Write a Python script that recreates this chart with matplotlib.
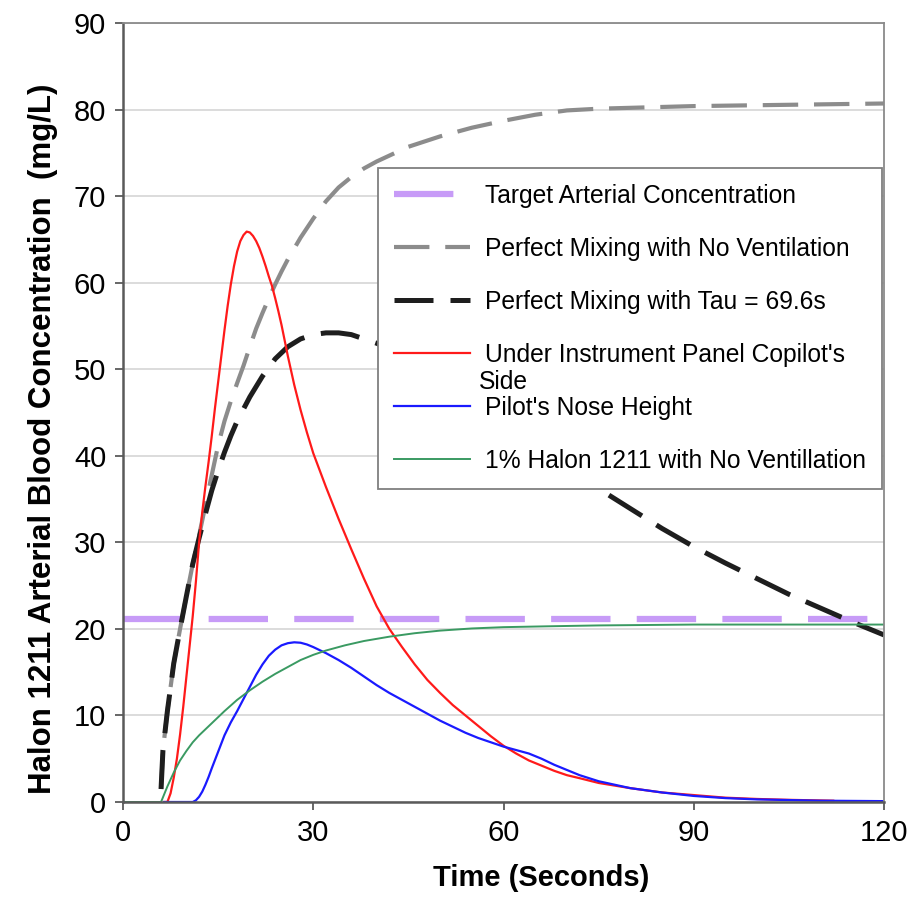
import matplotlib
matplotlib.use('Agg')
import matplotlib.pyplot as plt
from matplotlib.transforms import IdentityTransform

plt.rcParams['font.family'] = ['Liberation Sans', 'DejaVu Sans']

# time in seconds, concentration in mg/L
target_t = [0, 120]
target_y = [21.1, 21.1]

gray_t = [6, 6.3, 7, 8, 9, 10, 11, 12, 13, 14, 15, 16, 17, 18, 19, 20, 21, 22, 23, 24,
          25, 26, 28, 30, 32, 34, 36, 38, 40, 45, 50, 55, 60, 65, 70, 75, 80, 90, 100, 110, 120]
gray_y = [1.5, 6, 10.5, 16, 20, 23.8, 27.5, 30.8, 34.3, 37.8, 41.2, 44, 46.3, 48.4, 50.4, 52.6, 54.7, 56.5, 58.2, 59.8,
          61.3, 62.7, 65.2, 67.4, 69.4, 71, 72.2, 73.2, 74, 75.7, 76.9, 77.9, 78.7, 79.4, 79.9, 80.1, 80.2, 80.4, 80.5, 80.6, 80.7]

black_t = [6, 6.3, 7, 8, 9, 10, 11, 12, 13, 14, 15, 16, 17, 18, 20, 22, 24, 26, 28, 30,
           32, 34, 36, 38, 40, 45, 50, 55, 60, 65, 70, 75, 80, 85, 90, 95, 100, 105, 110, 115, 120]
black_y = [1.5, 6, 10.5, 16, 20, 23.8, 27.5, 30.5, 33.3, 36, 38.3, 40.4, 42.3, 44, 46.8, 49.2, 51.2, 52.6, 53.5, 54,
           54.2, 54.2, 54, 53.5, 53, 51.5, 49.5, 47, 44.2, 41.3, 38.7, 36.2, 33.9, 31.6, 29.5, 27.6, 25.8, 24, 22.4, 20.8, 19.3]

red_t = [6.5, 7.0, 7.5, 8, 8.5, 9, 9.5, 10, 10.5, 11, 11.5, 12, 12.5, 13, 13.5, 14, 14.5, 15, 15.5, 16,
         16.5, 17, 17.5, 18, 18.5, 19, 19.5, 20, 20.5, 21, 21.5, 22, 22.5, 23, 23.5, 24, 24.5, 25, 25.5, 26,
         27, 28, 29, 30, 32, 34, 36, 38, 40, 42, 44, 46, 48, 50, 52, 54, 56, 58, 60, 62,
         64, 66, 68, 70, 72, 75, 80, 85, 90, 95, 100, 105, 112]
red_y = [0, 0, 1, 2.8, 5, 7.8, 11, 14.5, 18, 21.5, 25.5, 30, 33.5, 36.5, 39.3, 42.3, 45.5, 48.5, 51.5, 54.5,
         57.3, 59.8, 61.9, 63.6, 64.8, 65.5, 65.9, 65.8, 65.4, 64.8, 64, 63, 61.9, 60.7, 59.6, 58.2, 56.7, 55.1, 53.3, 51.5,
         48.2, 45.3, 42.7, 40.3, 36.4, 32.7, 29.2, 25.8, 22.6, 20, 17.9, 15.9, 14.1, 12.6, 11.2, 10, 8.8, 7.6, 6.5, 5.6,
         4.8, 4.2, 3.6, 3.1, 2.75, 2.2, 1.6, 1.1, 0.8, 0.5, 0.35, 0.25, 0.15]

blue_t = [6.5, 11, 11.5, 12, 12.5, 13, 13.5, 14, 15, 16, 17, 18, 19, 20, 21, 22, 23, 24, 25, 26,
          27, 28, 29, 30, 32, 34, 36, 38, 40, 42, 44, 46, 48, 50, 52, 54, 56, 58, 60, 62,
          64, 66, 68, 70, 72, 75, 80, 85, 90, 95, 100, 110, 120]
blue_y = [0, 0, 0.2, 0.6, 1.2, 2, 2.9, 3.9, 5.8, 7.7, 9.2, 10.5, 11.9, 13.3, 14.7, 15.9, 16.9, 17.6, 18.1, 18.35,
          18.45, 18.4, 18.2, 17.9, 17.2, 16.4, 15.5, 14.5, 13.5, 12.6, 11.8, 11, 10.2, 9.4, 8.7, 8, 7.4, 6.9, 6.4, 6,
          5.6, 5, 4.3, 3.7, 3.1, 2.4, 1.6, 1.1, 0.7, 0.45, 0.3, 0.15, 0.1]

green_t = [0, 6, 6.5, 7, 8, 9, 10, 11, 12, 13, 14, 16, 18, 20, 22, 24, 26, 28, 30, 32,
           35, 38, 42, 46, 50, 55, 60, 67, 75, 90, 120]
green_y = [0, 0, 0.9, 1.8, 3.4, 4.8, 5.9, 6.9, 7.7, 8.4, 9.1, 10.5, 11.8, 12.9, 13.9, 14.8, 15.6, 16.4, 17, 17.5,
           18.1, 18.6, 19.1, 19.5, 19.8, 20.05, 20.2, 20.3, 20.4, 20.5, 20.5]

labels = ['Target Arterial Concentration',
          'Perfect Mixing with No Ventilation',
          'Perfect Mixing with Tau = 69.6s',
          "Under Instrument Panel Copilot's",
          "Pilot's Nose Height",
          '1% Halon 1211 with No Ventillation']

fig = plt.figure(figsize=(9.16, 9.19), dpi=100)
ax = fig.add_axes([123/916, 1 - 802/919, 761/916, 779/919])

ax.plot(target_t, target_y, color='#c79bf7', lw=4.5, dashes=(9.5, 4.2), label=labels[0])
ax.plot(gray_t, gray_y, color='#8c8c8c', lw=3.0, dashes=(8.5, 3.8), label=labels[1])
ax.plot(black_t, black_y, color='#1e1e1e', lw=3.6, dashes=(7.8, 3.4), label=labels[2])
ax.plot(red_t, red_y, color='#ff1a1a', lw=1.6, label=labels[3])
ax.plot(blue_t, blue_y, color='#1a1aff', lw=1.6, label=labels[4])
ax.plot(green_t, green_y, color='#3a9a62', lw=1.4, label=labels[5])

ax.set_xlim(0, 120)
ax.set_ylim(0, 90)
ax.set_xticks([0, 30, 60, 90, 120])
ax.set_yticks(range(0, 91, 10))
ax.yaxis.grid(True, color='#d9d9d9', lw=1.3)
ax.set_axisbelow(True)

for s in ['top', 'right']:
    ax.spines[s].set_color('#8a8a8a')
    ax.spines[s].set_linewidth(1.3)
for s in ['left', 'bottom']:
    ax.spines[s].set_color('#5a5a5a')
    ax.spines[s].set_linewidth(1.8)

ax.tick_params(direction='out', length=6, width=1.3, color='#5a5a5a', labelsize=21, pad=6)

ax.set_xlabel('Time (Seconds)', fontsize=21, fontweight='bold')
ax.set_ylabel('Halon 1211 Arterial Blood Concentration  (mg/L)', fontsize=22.5, fontweight='bold')
ax.xaxis.set_label_coords(0.549, -0.08)
ax.yaxis.set_label_coords(-0.085, 0.466)

leg = ax.legend(loc='upper right', bbox_to_anchor=(0.997, 0.814), fontsize=17.7,
                frameon=True, fancybox=False, framealpha=1, edgecolor='#7f7f7f',
                borderpad=0.65, labelspacing=1.18, handlelength=3.1, handletextpad=0.6,
                borderaxespad=0)
leg.get_frame().set_linewidth(1.3)

# second line of the wrapped legend label
fig.canvas.draw()
bb = leg.get_texts()[3].get_window_extent()
ax.text(bb.x0 - 6, (bb.y0 + bb.y1) / 2 - 27, 'Side', fontsize=17.7, va='center', ha='left',
        transform=IdentityTransform(), zorder=10)

fig.savefig('out.png', dpi=100)
